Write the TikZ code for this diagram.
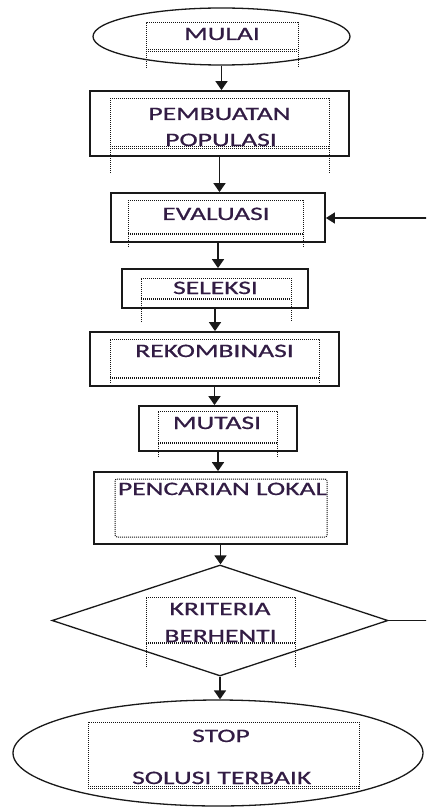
\documentclass[tikz,border=0pt]{standalone}
\usepackage{fontspec}
\setmainfont{Carlito}
\newfontfamily\boxfont[FakeBold=0.6]{Carlito}
\usetikzlibrary{shapes.geometric,arrows.meta}
\definecolor{txtc}{RGB}{50,28,68}
\definecolor{linec}{RGB}{25,25,25}
\definecolor{dotc}{RGB}{20,20,20}
\newcommand\sx[1]{\scalebox{1.45}[1]{#1}}
\newcommand\dframe[5]{% x1 x2 top bottom ext
  \draw[dotframe] (#1,#5) -- (#1,#3) -- (#2,#3) -- (#2,#5);
  \draw[dotframe] (#1,#4) -- (#2,#4);
  \draw[dotframe] (#1,#4+1.6) -- (#2,#4+1.6);
}
\tikzset{
  procbox/.style={draw=linec, line width=1.8pt, rectangle, inner sep=0pt},
  term/.style={draw=linec, line width=1.3pt, ellipse, inner sep=0pt},
  decis/.style={draw=linec, line width=1.3pt, diamond, inner sep=0pt},
  txt/.style={anchor=base, inner sep=0pt, text=txtc, font=\boxfont\fontsize{19}{23}\selectfont},
  arr/.style={draw=linec, line width=1.7pt, -{Triangle[width=12pt,length=9pt]}},
  fb/.style={draw=linec, line width=1.3pt, -{Triangle[width=11pt,length=9pt]}},
  dotframe/.style={draw=dotc, line width=1pt, dash pattern=on 1pt off 1pt},
}
\begin{document}
\begin{tikzpicture}[x=1pt,y=-1pt]
\path[use as bounding box, clip] (0,0) rectangle (426,810);
\fill[white] (0,0) rectangle (426,810);

% shapes
\node[term, minimum width=257pt, minimum height=57pt] (mulai) at (221.5,36.5) {};
\node[procbox, minimum width=259pt, minimum height=65pt] (pemb) at (219.5,123.5) {};
\node[procbox, minimum width=214pt, minimum height=49pt] (eval) at (218,217.5) {};
\node[procbox, minimum width=186pt, minimum height=39pt] (sel) at (215,288.5) {};
\node[procbox, minimum width=249pt, minimum height=54pt] (rek) at (214.5,359) {};
\node[procbox, minimum width=158pt, minimum height=45pt] (mut) at (218,428.5) {};
\node[procbox, minimum width=253pt, minimum height=72pt] (pen) at (220.5,508) {};
\node[decis, minimum width=336pt, minimum height=111pt] (krit) at (220,620.5) {};
\node[term, minimum width=410pt, minimum height=106pt] (stop) at (218,753) {};

% dotted text frames
\dframe{146}{298}{23}{50}{68}
\dframe{110}{329}{99}{147}{173}
\dframe{128}{303}{201}{233}{247}
\dframe{141}{291}{278}{298}{322}
\dframe{110}{319}{339}{377}{383}
\dframe{158}{277}{411}{442}{457}
\dframe{146}{295}{597}{642}{667}
\draw[dotframe, rounded corners=2pt] (115,479) rectangle (327,537);
\draw[dotframe] (88,722) rectangle (359,788);
\draw[dotframe] (88,786.4) -- (359,786.4);

% texts
\node[txt] (t1) at (222,40) {\sx{MULAI}};
\node[txt] (t2) at (219.5,120) {\sx{PEMBUATAN}};
\node[txt] (t3) at (221,146) {\sx{POPULASI}};
\node[txt] (t4) at (216,220) {\sx{EVALUASI}};
\node[txt] (t5) at (215.5,294) {\sx{SELEKSI}};
\node[txt] (t6) at (214.5,357) {\sx{REKOMBINASI}};
\node[txt] (t7) at (217,429) {\sx{MUTASI}};
\node[txt] (t8) at (222.5,495) {\sx{PENCARIAN LOKAL}};
\node[txt] (t9) at (220,615) {\sx{KRITERIA}};
\node[txt] (t10) at (220.5,642) {\sx{BERHENTI}};
\node[txt] (t11) at (221,742) {\sx{STOP}};
\node[txt] (t12) at (221.7,784) {\sx{SOLUSI TERBAIK}};

% connectors
\draw[arr] (mulai.south) -- (mulai.south |- pemb.north);
\draw[arr] (pemb.south) -- (pemb.south |- eval.north);
\draw[arr] (eval.south) -- (eval.south |- sel.north);
\draw[arr] (sel.south) -- (sel.south |- rek.north);
\draw[arr] (rek.south) -- (rek.south |- mut.north);
\draw[arr] (mut.south) -- (mut.south |- pen.north);
\draw[arr] (pen.south) -- (pen.south |- krit.north);
\draw[arr] (krit.south) -- (krit.south |- stop.north);

\coordinate (fb1) at (432,620.5);
\coordinate (fb2) at (432,218);
\draw[fb] (krit.east) -- (fb1) -- (fb2) -- (fb2 -| eval.east);
\end{tikzpicture}
\end{document}
